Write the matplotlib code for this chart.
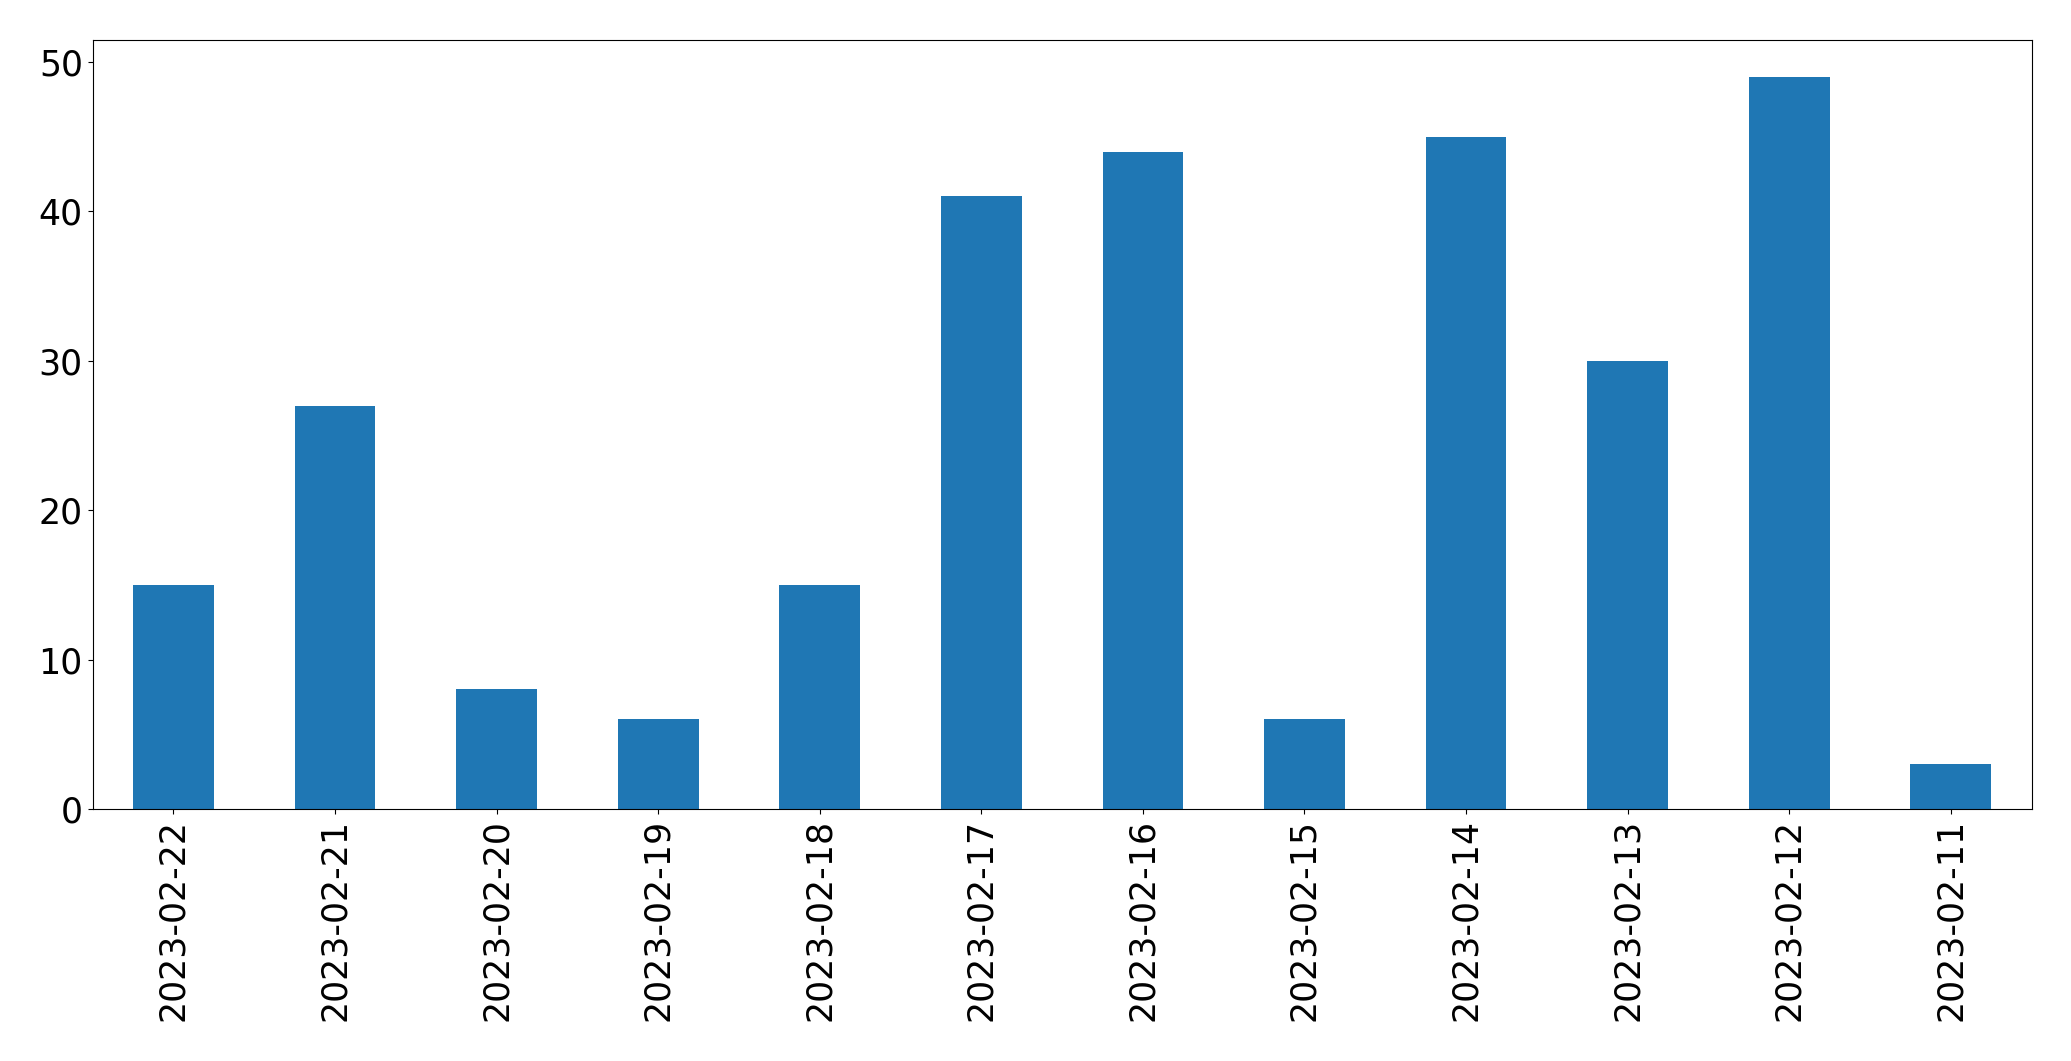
import matplotlib
matplotlib.use("Agg")
import matplotlib.pyplot as plt

# данные
dates = ['2023-02-22', '2023-02-21', '2023-02-20', '2023-02-19', '2023-02-18', '2023-02-17',
         '2023-02-16', '2023-02-15', '2023-02-14', '2023-02-13', '2023-02-12', '2023-02-11']
counts = [15, 27, 8, 6, 15, 41, 44, 6, 45, 30, 49, 3]

fig = plt.figure(figsize=(20.71, 10.61), dpi=100)
ax = fig.add_axes([0.0447, 0.2375, 0.9363, 0.7245])

x = range(len(dates))
ax.bar(x, counts, width=0.5, color='#1f77b4')
ax.set_xlim(-0.5, len(dates) - 0.5)
ax.set_xticks(list(x))
ax.set_xticklabels(dates, rotation=90)
ax.tick_params(labelsize=25)

fig.savefig('out.png', dpi=100)
